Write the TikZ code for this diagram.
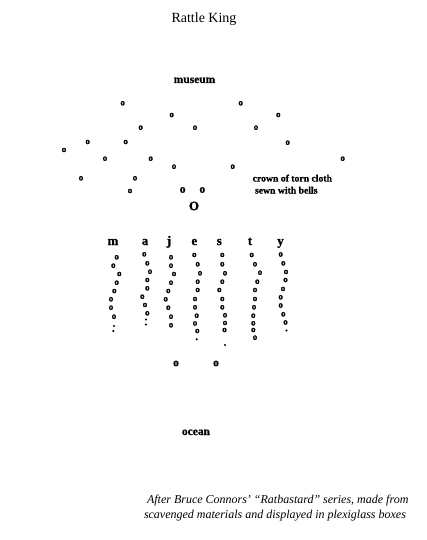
\documentclass[tikz,border=0pt]{standalone}
\usepackage{fontspec}
\setmainfont{Liberation Serif}[BoldFeatures={FakeBold=0.8}]
\newfontfamily\heavyo{Liberation Serif Bold}[FakeBold=1.6]
\begin{document}
\begin{tikzpicture}[x=1pt,y=-1pt,
  every node/.style={inner sep=0pt,outer sep=0pt},
  sm/.style={font=\fontsize{9}{9}\heavyo},
  md/.style={font=\fontsize{11.5}{11.5}\heavyo},
  big/.style={font=\fontsize{13}{13}\heavyo},
  bell/.style={circle,fill=black,minimum size=2.4pt},
  letter/.style={anchor=base,font=\fontsize{13}{13}\selectfont\bfseries},
  word/.style={anchor=base,font=\fontsize{11.5}{11.5}\selectfont\bfseries},
  crown/.style={anchor=base west,font=\fontsize{9.7}{9.7}\selectfont\bfseries},
  caption/.style={anchor=base west,font=\fontsize{12}{12}\selectfont\itshape}]
\useasboundingbox (0,0) rectangle (427,540);
\fill[white] (0,0) rectangle (427,540);
% title and labels
\node[anchor=base,font=\fontsize{14}{14}\selectfont] (title) at (204,23) {Rattle King};
\node[word] (museum) at (194.5,83) {museum};
\node[crown] (crown1) at (252.7,181.5) {crown of torn cloth};
\node[crown] (crown2) at (255,193.5) {sewn with bells};
\node[word] (ocean) at (196,435) {ocean};
\node[caption] (cap1) at (147,503) {After Bruce Connors' ``Ratbastard'' series, made from};
\node[caption] (cap2) at (144,518) {scavenged materials and displayed in plexiglass boxes};
% crown of scattered rattles
\foreach \p [count=\i] in {(122.7,103.3),(240.7,103.3),(171.7,115),(278.3,115),
  (140.7,127.7),(195,127.7),(256,127.7),(87.7,142),(125.7,142),(287.7,142.7),
  (64,150),(105,158.7),(150.7,158.7),(342.7,158.7),(174,166.7),(232.7,166.7),
  (81,178.3),(135,178.3),(130,191)}
  \node[sm] (top\i) at \p {o};
\node[md] (pairL) at (182.7,190) {o};
\node[md] (pairR) at (202.3,190) {o};
\node[big] (king) at (194,206) {O};
% letters
\node[letter] (lm) at (113,245) {m};
\node[letter] (la) at (145,245) {a};
\node[letter] (lj) at (169,245) {j};
\node[letter] (le) at (194.3,245) {e};
\node[letter] (ls) at (219.3,245) {s};
\node[letter] (lt) at (250,245) {t};
\node[letter] (ly) at (280.5,245) {y};
% strands
\foreach \p [count=\i] in {(116.7,257.3),(113.3,265.7),(119.3,274),(116.7,282.7),
  (114.3,291),(111,299.3),(111,307.7),(114,316.7)}
  \node[sm] (m\i) at \p {o};
\node[bell] (mb1) at (114,326) {};
\node[bell] (mb2) at (113.3,331) {};
\foreach \p [count=\i] in {(144.3,254.3),(147.3,263.3),(150,271.7),(147.3,280),
  (147.3,288.3),(142.3,296.7),(145,305),(147.3,313.3)}
  \node[sm] (a\i) at \p {o};
\node[bell] (ab1) at (146,319.5) {};
\node[bell] (ab2) at (146,324.5) {};
\foreach \p [count=\i] in {(171,257.3),(171,265.7),(174,274),(171,282.7),
  (168.3,291),(165.7,299.3),(168.3,307.7),(171,316.7),(171,325.3)}
  \node[sm] (j\i) at \p {o};
\foreach \p [count=\i] in {(194.3,255),(197.7,264.3),(200,273.3),(197.7,281.7),
  (197.7,290),(195,299),(195,307.3),(196.7,315.7),(195,323.5),(197.3,331)}
  \node[sm] (e\i) at \p {o};
\node[bell] (eb1) at (196.7,339.3) {};
\foreach \p [count=\i] in {(222.3,255),(222.3,264.3),(225,273.3),(222.3,281.7),
  (219.3,290),(222.3,299),(222.3,307.3),(225,315.3),(225,323),(224.5,330)}
  \node[sm] (s\i) at \p {o};
\node[bell] (sb1) at (225,345) {};
\foreach \p [count=\i] in {(251.7,255),(255,264.3),(260,272.7),(257.3,281.7),
  (255,290),(255,299),(254,307.3),(253.3,315.7),(253.3,323.3),(253.3,330),(255,337.7)}
  \node[sm] (t\i) at \p {o};
\foreach \p [count=\i] in {(280.7,254.5),(283.3,263.3),(286,272),(285.5,280),
  (283,289),(280.7,297.3),(280.7,305.5),(283.3,314.3),(285.5,322.5)}
  \node[sm] (y\i) at \p {o};
\node[bell] (yb1) at (286.5,330.5) {};
% bottom pair
\node[md] (botL) at (176,363.5) {o};
\node[md] (botR) at (216,363.5) {o};
\end{tikzpicture}
\end{document}
